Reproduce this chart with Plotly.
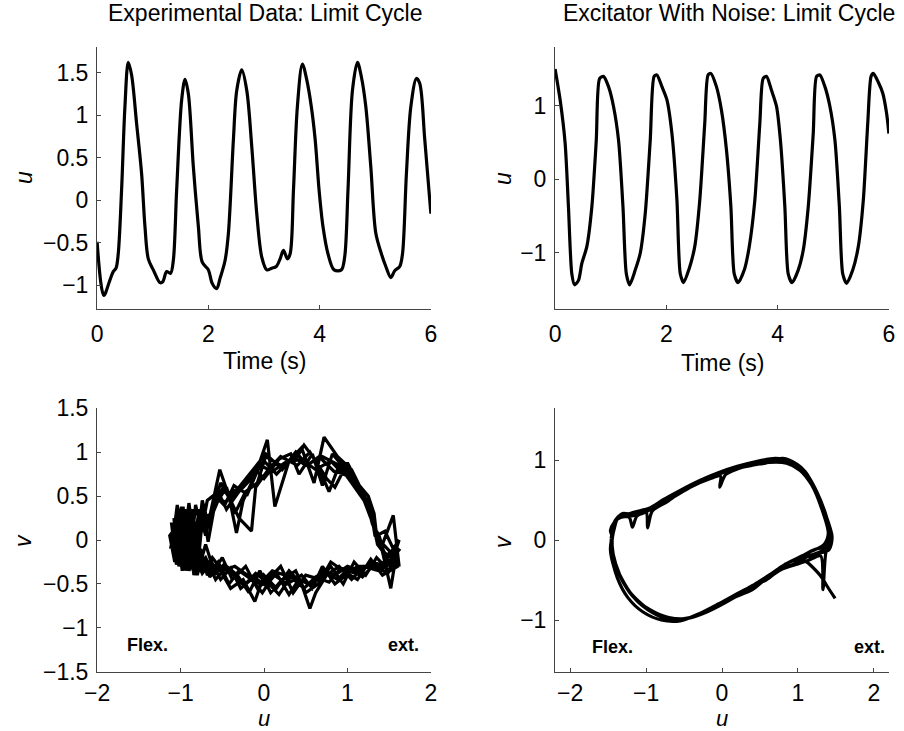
import plotly.graph_objects as go

# ---------------- data ----------------
# Top-left: experimental time series
exp_t = [0.00, 0.12, 0.23, 0.29, 0.34, 0.38, 0.44, 0.50, 0.56, 0.62, 0.71, 0.80, 0.86, 0.92, 1.01,
         1.13, 1.18, 1.25, 1.32, 1.37, 1.43, 1.52, 1.58, 1.64, 1.73, 1.82, 1.89, 2.00, 2.07, 2.15,
         2.21, 2.30, 2.36, 2.45, 2.51, 2.60, 2.69, 2.78, 2.87, 2.96, 3.05, 3.14, 3.22, 3.29, 3.35,
         3.42, 3.47, 3.53, 3.60, 3.69, 3.77, 3.85, 3.92, 3.99, 4.06, 4.15, 4.26, 4.39, 4.45, 4.51,
         4.59, 4.68, 4.75, 4.83, 4.92, 5.01, 5.11, 5.19, 5.28, 5.35, 5.44, 5.49, 5.56, 5.64, 5.74,
         5.80, 5.89, 6.00]
exp_u = [-0.49, -1.12, -0.94, -0.84, -0.80, -0.63, 0.12, 1.10, 1.62, 1.47, 0.90, 0.31, -0.31, -0.69, -0.82,
         -0.97, -0.96, -0.84, -0.86, -0.71, 0.12, 1.18, 1.42, 1.25, 0.39, -0.31, -0.73, -0.82, -0.98, -1.04,
         -0.92, -0.71, -0.39, 0.71, 1.29, 1.53, 1.29, 0.63, -0.16, -0.67, -0.82, -0.80, -0.78, -0.69, -0.59,
         -0.69, -0.63, 0.12, 1.10, 1.60, 1.41, 1.10, 0.71, 0.12, -0.31, -0.63, -0.82, -0.82, -0.67, 0.12,
         1.29, 1.62, 1.45, 1.10, 0.39, -0.39, -0.63, -0.78, -0.91, -0.83, -0.78, -0.63, 0.31, 1.10, 1.43,
         1.37, 0.71, -0.16]

# Top-right: excitator with noise time series
exc_t = [0.00, 0.09, 0.18, 0.24, 0.30, 0.35, 0.42, 0.48, 0.57, 0.66, 0.74, 0.80, 0.87, 0.96, 1.05,
         1.14, 1.22, 1.28, 1.34, 1.44, 1.53, 1.62, 1.71, 1.78, 1.83, 1.92, 2.01, 2.10, 2.19, 2.25,
         2.31, 2.41, 2.51, 2.60, 2.69, 2.75, 2.80, 2.90, 2.99, 3.08, 3.16, 3.22, 3.29, 3.40, 3.49,
         3.59, 3.68, 3.74, 3.80, 3.89, 3.98, 4.05, 4.13, 4.19, 4.26, 4.37, 4.46, 4.55, 4.64, 4.70,
         4.76, 4.85, 4.94, 5.03, 5.11, 5.17, 5.24, 5.35, 5.45, 5.54, 5.62, 5.68, 5.72, 5.81, 5.89,
         5.96, 6.00]
exc_u = [1.50, 1.08, 0.49, -0.38, -1.29, -1.44, -1.38, -1.15, -0.92, -0.38, 0.53, 1.37, 1.40, 1.26, 0.99,
         0.53, -0.38, -1.29, -1.44, -1.24, -1.01, -0.47, 0.53, 1.40, 1.42, 1.26, 1.08, 0.62, -0.29, -1.29,
         -1.41, -1.22, -0.92, -0.29, 0.76, 1.42, 1.44, 1.26, 0.94, 0.40, -0.38, -1.29, -1.41, -1.24, -0.92,
         -0.29, 0.76, 1.37, 1.40, 1.21, 0.99, 0.53, -0.38, -1.29, -1.41, -1.24, -0.97, -0.38, 0.62, 1.40,
         1.42, 1.26, 0.99, 0.53, -0.38, -1.29, -1.42, -1.24, -0.92, -0.29, 0.76, 1.40, 1.44, 1.32, 1.17,
         0.89, 0.62]

# Bottom-left: experimental phase portrait (u, v)
exp_phase_u = [
    -1.10, -1.05, -1.00, -0.95, -0.88, -0.82, -0.75, -0.68, -0.55, -0.45, -0.30, -0.15, 0.00, 0.15, 0.35,
    0.50, 0.70, 0.90, 1.05, 1.20, 1.30, 1.35, 1.45, 1.60, 1.45, 1.30, 1.15, 1.00, 0.85, 0.70,
    0.55, 0.40, 0.25, 0.10, -0.05, -0.20, -0.35, -0.50, -0.62, -0.72, -0.80, -0.88, -0.95, -1.02, -1.08,
    -1.12, -1.05, -0.98, -0.92, -0.85, -0.78, -0.70, -0.62, -0.53, -0.42, -0.33, -0.25, -0.10, 0.04, 0.13,
    0.30, 0.45, 0.60, 0.72, 0.88, 1.05, 1.18, 1.28, 1.33, 1.42, 1.55, 1.62, 1.50, 1.38, 1.20,
    1.05, 0.90, 0.75, 0.62, 0.55, 0.45, 0.30, 0.15, 0.00, -0.11, -0.25, -0.40, -0.55, -0.65, -0.75,
    -0.85, -0.92, -1.00, -1.06,
    -1.10, -1.03, -0.97, -0.90, -0.83, -0.76, -0.66, -0.55, -0.45, -0.35, -0.22, -0.08, 0.02, 0.20, 0.38,
    0.48, 0.62, 0.78, 0.92, 1.10, 1.22, 1.30, 1.36, 1.48, 1.62, 1.50, 1.35, 1.22, 1.08, 0.95,
    0.80, 0.68, 0.50, 0.35, 0.20, 0.05, -0.08, -0.22, -0.38, -0.50, -0.60, -0.70, -0.80, -0.90, -0.98,
    -1.05,
    -1.13, -1.07, -1.00, -0.93, -0.86, -0.79, -0.72, -0.63, -0.52, -0.40, -0.30, -0.15, -0.10, 0.05, 0.20,
    0.40, 0.55, 0.75, 0.85, 1.00, 1.15, 1.25, 1.32, 1.40, 1.52, 1.58, 1.45, 1.30, 1.12, 0.98,
    0.85, 0.70, 0.58, 0.45, 0.28, 0.12, -0.02, -0.15, -0.30, -0.42, -0.55, -0.68, -0.76, -0.84, -0.92,
    -1.00, -1.07,
    -1.10, -1.04, -0.96, -0.89, -0.82, -0.74, -0.66, -0.58, -0.48, -0.38, -0.25, -0.10, 0.00, 0.18, 0.32,
    0.42, 0.58, 0.70, 0.82, 0.98, 1.12, 1.25, 1.32, 1.35, 1.45, 1.55, 1.60, 1.42, 1.28, 1.12,
    0.95, 0.80, 0.65, 0.50, 0.38, 0.22, 0.08, -0.05, -0.18, -0.32, -0.45, -0.58, -0.70, -0.80, -0.88,
    -0.96, -1.04,
    -1.08, -1.02, -0.97, -0.91, -0.86, -0.80, -0.73, -0.64, -0.56, -0.46, -0.36, -0.20, -0.05, 0.10, 0.25,
    0.45, 0.62, 0.80, 0.95, 1.08, 1.18, 1.27, 1.33, 1.40, 1.50, 1.58, 1.48, 1.32, 1.18, 1.02,
    0.88, 0.72, 0.58, 0.42, 0.30, 0.15, 0.02, -0.12, -0.28, -0.40, -0.52, -0.63, -0.74, -0.83, -0.90,
    -0.98, -1.05,
    -1.11, -1.06, -0.99, -0.94, -0.87, -0.81, -0.74, -0.67, -0.60, -0.50, -0.40, -0.28, -0.12, 0.02, 0.22,
    0.38, 0.52, 0.66, 0.84, 1.00, 1.14, 1.24, 1.30, 1.38, 1.48, 1.63, 1.52, 1.40, 1.25, 1.10,
    0.92, 0.78, 0.62, 0.48, 0.32, 0.18, 0.04, -0.10, -0.24, -0.36, -0.48, -0.60, -0.72, -0.82, -0.90,
    -0.97, -1.05, -1.10]
exp_phase_v = [
    0.02, 0.30, -0.25, 0.35, -0.15, 0.40, 0.10, 0.45, 0.55, 0.35, 0.55, 0.70, 0.90, 0.75, 0.95,
    0.85, 0.95, 0.85, 0.65, 0.45, 0.20, 0.00, -0.15, -0.25, -0.30, -0.25, -0.35, -0.30, -0.40, -0.35,
    -0.50, -0.45, -0.40, -0.35, -0.50, -0.40, -0.30, -0.35, -0.20, -0.35, -0.10, -0.30, 0.05, -0.30, 0.10,
    -0.10, 0.25, -0.35, 0.20, -0.20, 0.35, 0.05, 0.40, 0.80, 0.50, 0.08, 0.45, 0.75, 1.14, 0.38,
    0.90, 1.05, 0.65, 1.17, 0.95, 0.80, 0.55, 0.35, 0.05, -0.05, 0.28, -0.30, -0.15, -0.35, -0.30,
    -0.45, -0.30, -0.40, -0.60, -0.78, -0.50, -0.35, -0.55, -0.40, -0.70, -0.45, -0.55, -0.30, -0.42, -0.15,
    -0.35, 0.10, -0.25, 0.20,
    0.00, 0.35, -0.10, 0.42, -0.05, 0.30, 0.20, 0.45, 0.60, 0.30, 0.55, 0.65, 0.95, 0.85, 0.92,
    1.08, 0.90, 0.55, 0.90, 0.70, 0.45, 0.25, -0.05, -0.20, 0.00, -0.35, -0.20, -0.40, -0.25, -0.50,
    -0.30, -0.45, -0.40, -0.60, -0.30, -0.45, -0.55, -0.30, -0.45, -0.20, -0.35, -0.05, -0.40, 0.00, -0.35,
    0.15,
    0.05, -0.25, 0.30, -0.30, 0.35, -0.10, 0.25, 0.30, 0.65, 0.45, 0.25, 0.10, 0.60, 0.80, 0.95,
    0.85, 1.00, 0.70, 0.60, 0.88, 0.60, 0.40, 0.15, -0.05, -0.55, -0.20, -0.25, -0.30, -0.30, -0.40,
    -0.50, -0.30, -0.55, -0.40, -0.50, -0.40, -0.60, -0.45, -0.35, -0.50, -0.25, -0.40, -0.10, -0.40, 0.15,
    -0.15, 0.20,
    -0.05, 0.40, -0.20, 0.30, -0.20, 0.45, 0.15, 0.50, 0.40, 0.55, 0.60, 0.80, 0.70, 0.92, 0.98,
    0.75, 0.98, 0.62, 0.98, 0.80, 0.65, 0.50, 0.30, 0.05, 0.10, -0.10, -0.30, -0.40, -0.22, -0.45,
    -0.35, -0.25, -0.50, -0.60, -0.35, -0.45, -0.60, -0.35, -0.60, -0.40, -0.30, -0.45, -0.20, -0.30, 0.05,
    -0.30, 0.10,
    0.25, -0.30, 0.38, -0.22, 0.28, -0.35, 0.32, 0.20, 0.50, 0.42, 0.62, 0.52, 0.85, 0.78, 0.88,
    0.92, 0.80, 0.90, 0.75, 0.70, 0.52, 0.38, 0.12, -0.02, -0.12, -0.20, -0.38, -0.28, -0.42, -0.32,
    -0.45, -0.35, -0.52, -0.45, -0.62, -0.38, -0.52, -0.42, -0.55, -0.32, -0.45, -0.25, -0.38, -0.18, -0.35,
    0.00, -0.28,
    0.20, -0.15, 0.38, -0.35, 0.22, -0.30, 0.42, -0.02, 0.35, 0.58, 0.48, 0.62, 0.82, 0.98, 0.80,
    1.00, 0.85, 0.95, 0.78, 0.75, 0.58, 0.40, 0.18, 0.05, -0.28, -0.10, -0.22, -0.35, -0.28, -0.38,
    -0.32, -0.48, -0.42, -0.55, -0.42, -0.62, -0.48, -0.38, -0.52, -0.40, -0.28, -0.40, -0.22, -0.35, -0.08,
    -0.32, 0.05, 0.02]

# Bottom-right: excitator phase portrait (u, v)
exc_phase_u = [
    -1.46, -1.41, -1.33, -1.22, -1.18, -1.12, -0.95, -0.75, -0.52, -0.28, -0.02, 0.22, 0.47, 0.72, 0.92,
    1.09, 1.23, 1.36, 1.45, 1.41, 1.27, 1.10, 1.02, 0.86, 0.66, 0.44, 0.18, -0.07, -0.32, -0.57,
    -0.82, -1.07, -1.27, -1.39, -1.45,
    -1.44, -1.38, -1.30, -1.15, -1.00, -0.98, -0.92, -0.72, -0.50, -0.25, 0.00, 0.25, 0.50, 0.75, 0.95,
    1.10, 1.25, 1.37, 1.43, 1.38, 1.30, 1.20, 1.08, 0.95, 0.78, 0.58, 0.38, 0.12, -0.12, -0.38,
    -0.62, -0.88, -1.12, -1.30, -1.42, -1.46,
    -1.43, -1.36, -1.25, -1.10, -0.88, -0.65, -0.42, -0.15, -0.02, -0.03, 0.05, 0.30, 0.55, 0.80, 0.98,
    1.12, 1.26, 1.38, 1.44, 1.37, 1.33, 1.30, 1.15, 1.00, 0.80, 0.60, 0.40, 0.15, -0.10, -0.35,
    -0.60, -0.85, -1.10, -1.28, -1.40, -1.45,
    -1.44, -1.39, -1.31, -1.18, -1.02, -0.82, -0.58, -0.33, -0.08, 0.18, 0.42, 0.68, 0.88, 1.06, 1.20,
    1.33, 1.42, 1.36, 1.22, 1.05, 0.88, 0.70, 0.50, 0.30, 0.05, -0.20, -0.45, -0.70, -0.95, -1.18,
    -1.34, -1.44, -1.45,
    -1.47, -1.42, -1.34, -1.20, -1.05, -0.85, -0.62, -0.38, -0.12, 0.12, 0.38, 0.62, 0.85, 1.03, 1.18,
    1.31, 1.40, 1.34, 1.18, 1.00, 0.82, 0.62, 0.42, 0.20, -0.05, -0.30, -0.55, -0.80, -1.04, -1.24,
    -1.38, -1.47,
    -1.42, -1.37, -1.28, -1.15, -0.95, -0.78, -0.55, -0.30, -0.05, 0.20, 0.45, 0.70, 0.90, 1.07, 1.22,
    1.34, 1.43, 1.38, 1.20, 1.05, 1.15, 1.30, 1.40, 1.49]
exc_phase_v = [
    0.02, 0.24, 0.31, 0.28, 0.16, 0.30, 0.38, 0.49, 0.61, 0.73, 0.85, 0.92, 0.97, 1.01, 0.97,
    0.86, 0.63, 0.33, 0.04, -0.12, -0.17, -0.22, -0.28, -0.33, -0.44, -0.57, -0.71, -0.83, -0.94, -0.99,
    -0.95, -0.79, -0.58, -0.33, -0.08,
    0.05, 0.26, 0.29, 0.33, 0.35, 0.15, 0.36, 0.48, 0.63, 0.75, 0.84, 0.93, 0.95, 0.99, 0.96,
    0.84, 0.60, 0.30, 0.00, -0.13, -0.15, -0.22, -0.20, -0.30, -0.36, -0.50, -0.58, -0.74, -0.86, -0.96,
    -0.99, -0.92, -0.76, -0.52, -0.26, 0.00,
    0.10, 0.30, 0.30, 0.34, 0.42, 0.53, 0.66, 0.77, 0.80, 0.66, 0.82, 0.92, 0.97, 1.02, 0.95,
    0.82, 0.58, 0.28, 0.02, -0.15, -0.62, -0.20, -0.25, -0.30, -0.36, -0.47, -0.62, -0.72, -0.84, -0.95,
    -1.00, -0.94, -0.78, -0.56, -0.30, -0.05,
    0.08, 0.25, 0.33, 0.32, 0.36, 0.46, 0.58, 0.71, 0.82, 0.90, 0.95, 0.99, 0.99, 0.89, 0.67,
    0.37, 0.06, -0.08, -0.12, -0.20, -0.28, -0.40, -0.52, -0.64, -0.78, -0.90, -0.98, -0.97, -0.87, -0.70,
    -0.45, -0.18, 0.05,
    0.12, 0.22, 0.28, 0.30, 0.33, 0.43, 0.55, 0.68, 0.79, 0.88, 0.93, 0.97, 0.96, 0.87, 0.69,
    0.40, 0.08, -0.06, -0.14, -0.23, -0.31, -0.44, -0.56, -0.67, -0.80, -0.92, -1.01, -1.00, -0.90, -0.72,
    -0.47, -0.12,
    0.15, 0.28, 0.31, 0.35, 0.40, 0.50, 0.62, 0.74, 0.84, 0.92, 0.98, 1.02, 0.99, 0.88, 0.64,
    0.36, 0.06, -0.10, -0.18, -0.22, -0.30, -0.45, -0.60, -0.73]

x_ticks_time = [0, 2, 4, 6]
y_ticks_exp = [-1, -0.5, 0, 0.5, 1, 1.5]
y_ticks_exc = [-1, 0, 1]
x_ticks_phase = [-2, -1, 0, 1, 2]
y_ticks_phase_exp = [-1.5, -1, -0.5, 0, 0.5, 1, 1.5]
y_ticks_phase_exc = [-1, 0, 1]

titles = ["Experimental Data: Limit Cycle", "Excitator With Noise: Limit Cycle"]

# ---------------- figure ----------------
W, H = 904, 731
FONT = "Liberation Sans, Arial, Helvetica, sans-serif"


def px(x):
    return x / W


def py(y):
    return 1 - y / H


fig = go.Figure()
fig.add_trace(go.Scatter(x=exp_t, y=exp_u, mode="lines",
                         line=dict(shape="spline", smoothing=0.9, color="black", width=3.2),
                         xaxis="x", yaxis="y"))
fig.add_trace(go.Scatter(x=exc_t, y=exc_u, mode="lines",
                         line=dict(shape="spline", smoothing=0.7, color="black", width=3.2),
                         xaxis="x2", yaxis="y2"))
fig.add_trace(go.Scatter(x=exp_phase_u, y=exp_phase_v, mode="lines", line=dict(color="black", width=3.2),
                         xaxis="x3", yaxis="y3"))
fig.add_trace(go.Scatter(x=exc_phase_u, y=exc_phase_v, mode="lines",
                         line=dict(shape="spline", smoothing=0.8, color="black", width=3.2),
                         xaxis="x4", yaxis="y4"))

axis_common = dict(showline=True, linecolor="#444", linewidth=1, mirror=False, ticks="inside",
                   ticklen=4, tickcolor="#444", tickwidth=1, showgrid=False, zeroline=False,
                   automargin=False,
                   tickfont=dict(family=FONT, size=23, color="black"))

L = [px(97), px(431)]
R = [px(555), px(889)]
TOP = [py(309), py(47)]
BOT = [py(672), py(408)]

fig.update_layout(
    width=W, height=H, margin=dict(l=0, r=0, t=0, b=0, autoexpand=False), showlegend=False,
    paper_bgcolor="white", plot_bgcolor="white",
    xaxis=dict(domain=L, range=[-0.002, 6.002], tickvals=x_ticks_time, anchor="y",
               ticklabelstandoff=4, **axis_common),
    yaxis=dict(domain=TOP, range=[-1.28, 1.8], tickvals=y_ticks_exp, anchor="x",
               ticklabelstandoff=3, **axis_common),
    xaxis2=dict(domain=R, range=[-0.002, 6.002], tickvals=x_ticks_time, anchor="y2",
                ticklabelstandoff=4, **axis_common),
    yaxis2=dict(domain=TOP, range=[-1.77, 1.8], tickvals=y_ticks_exc, anchor="x2",
                ticklabelstandoff=3, **axis_common),
    xaxis3=dict(domain=L, range=[-2.002, 2.002], tickvals=x_ticks_phase, anchor="y3",
                ticklabelstandoff=0, **axis_common),
    yaxis3=dict(domain=BOT, range=[-1.502, 1.502], tickvals=y_ticks_phase_exp, anchor="x3",
                ticklabelstandoff=3, **axis_common),
    xaxis4=dict(domain=R, range=[-2.2, 2.2], tickvals=x_ticks_phase, anchor="y4",
                ticklabelstandoff=0, **axis_common),
    yaxis4=dict(domain=BOT, range=[-1.65, 1.65], tickvals=y_ticks_phase_exc, anchor="x4",
                ticklabelstandoff=3, **axis_common),
)

ann = []


def text(x, y, s, size=23, angle=0, xanchor="center", bold=False):
    ann.append(dict(x=px(x), y=py(y), xref="paper", yref="paper", text=(f"<b>{s}</b>" if bold else s),
                    showarrow=False, textangle=angle, xanchor=xanchor, yanchor="middle",
                    font=dict(family=FONT, size=size, color="black")))


text(265, 13, titles[0], size=23)
text(729, 13, titles[1], size=23)
text(264, 361, "Time (s)")
text(722, 363, "Time (s)")
text(24, 178, "<i>u</i>", angle=-90)
text(503, 178, "<i>u</i>", angle=-90)
text(23, 541, "<i>v</i>", angle=-90)
text(503, 541, "<i>v</i>", angle=-90)
text(264, 718, "<i>u</i>", size=22)
text(722, 718, "<i>u</i>", size=22)
text(125, 645, "Flex.", size=18, xanchor="left", bold=True)
text(421, 645, "ext.", size=18, xanchor="right", bold=True)
text(590, 647, "Flex.", size=18, xanchor="left", bold=True)
text(887, 647, "ext.", size=18, xanchor="right", bold=True)
fig.update_layout(annotations=ann)

fig.write_html("out.html", config={"displayModeBar": False},
               post_script="document.body.style.margin='0';document.body.style.overflow='hidden';")
